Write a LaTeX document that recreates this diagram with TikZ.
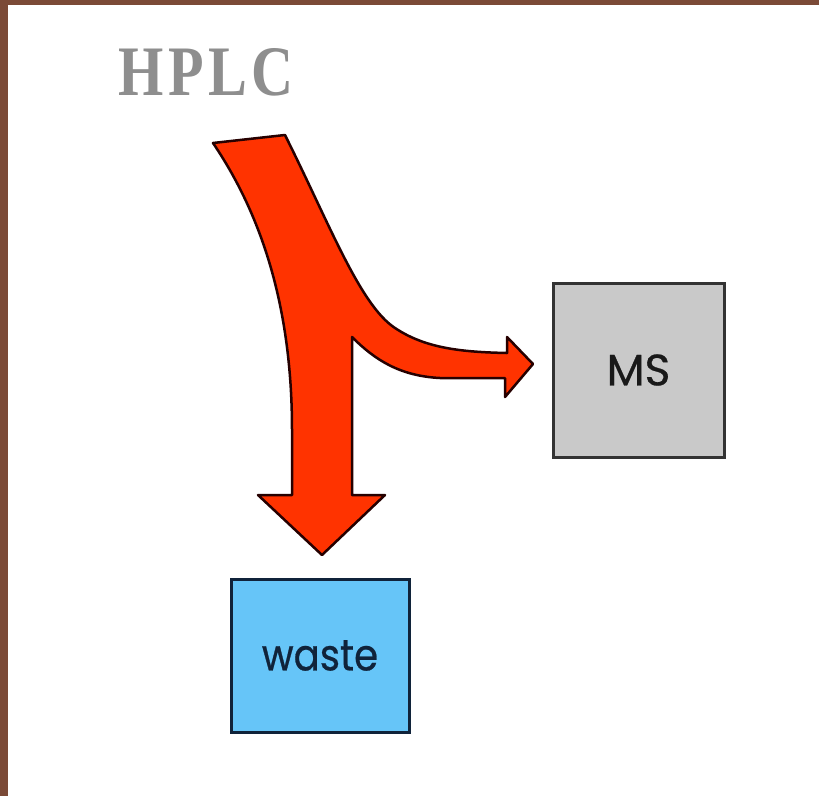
\documentclass[tikz,border=0pt]{standalone}
\usepackage{fontspec}
\usetikzlibrary{positioning}
\setmainfont{Liberation Serif}
\newfontfamily\boxfont[FakeBold=0.6]{Poppins}
\definecolor{wood}{HTML}{7B4A37}
\definecolor{flow}{HTML}{FF3300}
\definecolor{msgray}{HTML}{C9C9C9}
\definecolor{wastec}{HTML}{66C5F8}
\definecolor{wasteink}{HTML}{10233A}
\definecolor{titlec}{HTML}{8E8E8E}

\begin{document}
\begin{tikzpicture}[x=1pt, y=-1pt,
  box/.style={draw=black!80, line width=3pt, inner sep=0pt, align=center,
    font=\boxfont\fontsize{44}{48}\selectfont},
  ms/.style={box, fill=msgray, text=black!90, minimum width=171pt, minimum height=174pt},
  sink/.style={box, fill=wastec, draw=wasteink, text=wasteink, minimum width=178pt, minimum height=153pt},
  title/.style={text=titlec, inner sep=0pt, anchor=base,
    font=\addfontfeatures{FakeStretch=0.82,LetterSpace=6}\bfseries\fontsize{71}{76}\selectfont}]
  % wooden frame and white slide
  \fill[wood] (0,0) rectangle (819,796);
  \fill[white] (8,5) rectangle (819,796);
  \useasboundingbox (0,0) rectangle (819,796);
  \node[title] (hplc) at (206,95) {HPLC};
  \node[ms] (ms) at (638.5,370) {MS};
  \node[sink] (waste) at (320,655.5) {\addfontfeatures{FakeStretch=0.88}waste};
  % split flow: most to waste, a little to MS
  \filldraw[fill=flow, draw=black!85!red, line width=2.5pt, line join=round]
    (213,143) -- (285,135)
    .. controls (330,225) and (360,305) .. (395,328)
    .. controls (425,348) and (460,352) .. (507,353)
    -- (507,337) -- (533,364) -- (505,397) -- (505,378)
    -- (440,378) .. controls (400,376) and (375,360) .. (352,337)
    -- (352,495) -- (385,495) -- (322,555) -- (258,495) -- (292,495)
    -- (292,430) .. controls (292,330) and (272,230) .. (213,143) -- cycle;
\end{tikzpicture}
\end{document}
